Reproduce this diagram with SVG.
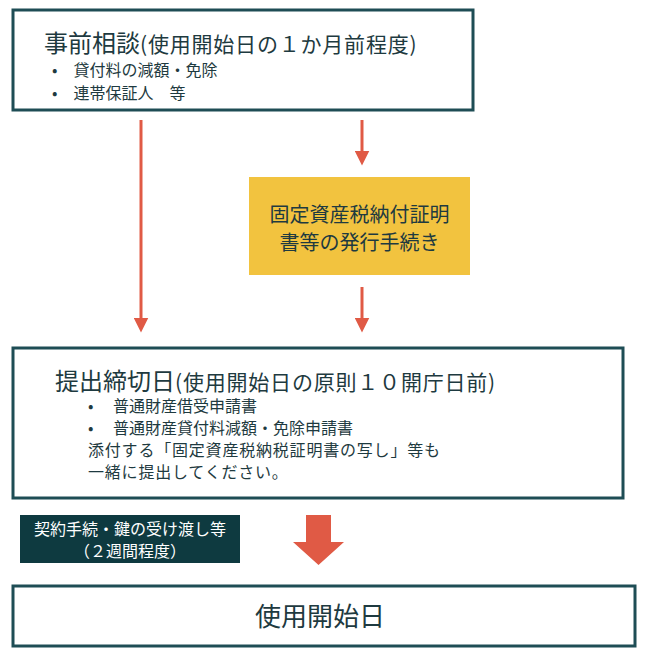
<svg xmlns="http://www.w3.org/2000/svg" width="660" height="668" viewBox="0 0 660 668">
<style>
.box{fill:#fff;stroke:#1e4d55;stroke-width:3}
text{font-family:"Noto Sans CJK JP","Liberation Sans",sans-serif;fill:#1e3a40}
.ln{stroke:#e05a45;stroke-width:3;fill:none}
</style>
<defs><marker id="ah" markerWidth="5" markerHeight="5" refX="2.5" refY="2.5" orient="auto" markerUnits="strokeWidth"><path d="M0,0 L5,2.5 L0,5z" fill="#e05a45"/></marker></defs>
<rect width="660" height="668" fill="#fff"/>
<g id="n1"><rect class="box" x="13" y="10" width="460" height="100"/>
<text x="44" y="52" font-size="24">事前相談<tspan font-size="21" letter-spacing="0.8">(使用開始日の１か月前程度)</tspan></text>
<text x="52" y="76" font-size="16">•　貸付料の減額・免除</text>
<text x="52" y="99" font-size="16">•　連帯保証人　等</text></g>
<g id="n2"><rect x="249" y="177" width="221" height="98" fill="#f2c33f"/>
<text x="359.5" y="222" font-size="20" text-anchor="middle">固定資産税納付証明</text>
<text x="359.5" y="250" font-size="20" text-anchor="middle">書等の発行手続き</text></g>
<g id="n3"><rect class="box" x="13" y="348" width="610" height="150"/>
<text x="55" y="390" font-size="24">提出締切日<tspan font-size="21" letter-spacing="0.8">(使用開始日の原則１０開庁日前)</tspan></text>
<text x="88" y="412" font-size="16">•　 普通財産借受申請書</text>
<text x="88" y="434" font-size="16">•　 普通財産貸付料減額・免除申請書</text>
<text x="88" y="456" font-size="16" letter-spacing="0.8">添付する「固定資産税納税証明書の写し」等も</text>
<text x="88" y="478" font-size="16" letter-spacing="0.8">一緒に提出してください。</text></g>
<g id="n4"><rect x="20" y="515" width="220" height="48" fill="#0e3a40"/>
<text x="130" y="535" font-size="16" text-anchor="middle" style="fill:#fff">契約手続・鍵の受け渡し等</text>
<text x="130" y="557" font-size="16" text-anchor="middle" style="fill:#fff">（２週間程度）</text></g>
<g id="n5"><rect class="box" x="13" y="586" width="622" height="60"/>
<text x="320" y="626" font-size="26" text-anchor="middle">使用開始日</text></g>
<g id="edges">
<line class="ln" x1="141" y1="120" x2="141" y2="325" marker-end="url(#ah)"/>
<line class="ln" x1="362" y1="120" x2="362" y2="158" marker-end="url(#ah)"/>
<line class="ln" x1="362" y1="287" x2="362" y2="325" marker-end="url(#ah)"/>
<path d="M306,515 H331 V542 H344 L318.5,565 L293,542 H306z" fill="#e05a45"/>
</g>
</svg>
